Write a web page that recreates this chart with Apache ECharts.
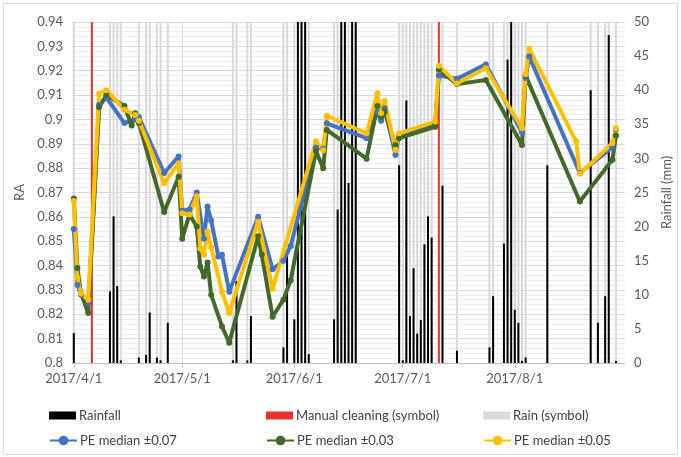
<!DOCTYPE html>
<html><head><meta charset="utf-8">
<script src="https://cdn.jsdelivr.net/npm/echarts@6/dist/echarts.min.js"></script>
<style>html,body{margin:0;padding:0;background:#fff}#c{width:681px;height:457px}</style>
</head><body><div id="c"></div>
<script>
// ---------- data ----------
const tickLabels = ['2017/4/1','2017/5/1','2017/6/1','2017/7/1','2017/8/1'];
const axisStart = '2017-04-01';
const axisEnd = '2017-08-31';

const rainDates = ['2017-04-01','2017-04-11','2017-04-12','2017-04-13','2017-04-14','2017-04-19','2017-04-21','2017-04-22','2017-04-24','2017-04-25','2017-04-27',
  '2017-05-15','2017-05-16','2017-05-19','2017-05-20','2017-05-29','2017-05-30',
  '2017-06-01','2017-06-02','2017-06-03','2017-06-04','2017-06-05','2017-06-12','2017-06-13','2017-06-14','2017-06-15','2017-06-16','2017-06-17','2017-06-18','2017-06-30',
  '2017-07-01','2017-07-02','2017-07-03','2017-07-04','2017-07-05','2017-07-06','2017-07-07','2017-07-08','2017-07-09','2017-07-12','2017-07-16','2017-07-25','2017-07-26','2017-07-29','2017-07-30','2017-07-31',
  '2017-08-01','2017-08-02','2017-08-03','2017-08-04','2017-08-10','2017-08-22','2017-08-24','2017-08-26','2017-08-27','2017-08-29'];
const rainfall = [4.4,10.5,21.5,11.3,0.4,0.8,1.2,7.4,0.8,0.4,5.9,
  0.4,12.0,0.4,6.9,2.3,16.5,
  6.4,50,50,50,1.3,6.4,22.5,50,50,26.4,50,50,29.0,
  0.4,38.5,6.9,13.9,4.3,6.3,17.4,21.5,18.4,26.0,1.8,2.3,9.8,17.5,44.5,50,
  7.8,5.9,0.3,0.8,29.0,40.0,5.9,9.8,48.1,0.3];

const rainSymbolDates = rainDates.slice();
const cleaningDates = ['2017-04-06','2017-07-11'];
const symbolFull = 50;

const peDates = ['2017-04-01','2017-04-02','2017-04-03','2017-04-05','2017-04-08','2017-04-10','2017-04-15','2017-04-17','2017-04-18','2017-04-19',
  '2017-04-26','2017-04-30','2017-05-01','2017-05-03','2017-05-05','2017-05-06','2017-05-07','2017-05-08','2017-05-09','2017-05-11',
  '2017-05-12','2017-05-14','2017-05-22','2017-05-23','2017-05-26','2017-05-29','2017-05-31','2017-06-07','2017-06-09','2017-06-10',
  '2017-06-21','2017-06-24','2017-06-25','2017-06-26','2017-06-29','2017-06-30','2017-07-10','2017-07-11','2017-07-16','2017-07-24',
  '2017-08-03','2017-08-04','2017-08-05','2017-08-18','2017-08-19','2017-08-28','2017-08-29'];
const pe007 = [0.855,0.832,0.828,0.8245,0.906,0.909,0.8985,null,0.900,0.901,
  0.878,0.8848,0.8625,0.863,0.870,null,0.851,0.8643,0.8585,0.8437,
  0.8444,0.8293,0.860,null,0.8385,0.842,0.848,0.8885,0.888,0.8984,
  0.8923,0.903,0.8995,0.9046,0.8854,0.8936,0.8984,0.918,0.9167,0.9226,
  0.8946,0.917,0.9258,null,0.878,0.8885,0.896];
const pe003 = [0.8675,0.839,0.8285,0.8205,0.905,0.910,0.9055,0.8975,0.9025,0.8985,
  0.862,0.8765,0.851,0.861,0.856,0.8395,0.8355,0.8413,0.828,null,
  0.815,0.8083,0.852,0.8445,0.819,0.826,0.834,0.887,0.880,0.8957,
  0.8839,0.9055,0.901,0.903,0.8895,0.8923,0.897,0.9205,0.9145,0.9162,
  0.8895,0.918,null,null,0.8663,0.8834,0.8934];
const pe005 = [0.8665,0.835,0.8285,0.826,0.9105,0.912,0.904,null,0.9018,0.8995,
  0.8738,0.882,0.8615,0.861,0.8685,0.847,0.8444,0.854,0.8475,null,
  0.8293,0.8205,0.858,null,0.8305,null,null,0.891,0.8873,0.9015,
  0.8943,0.9107,0.9025,0.9076,0.8875,0.8943,0.8991,0.922,0.9148,0.921,
  0.8964,0.9185,0.929,0.8909,0.8777,0.8902,0.8964];

// ---------- helpers ----------
function dayOf(s){ const p = s.split(/[-\/]/).map(Number); return (Date.UTC(p[0],p[1]-1,p[2]) - Date.UTC(2017,3,1))/86400000; }
const tickDays = tickLabels.map(dayOf);
const xMin = dayOf(axisStart) - 0.5, xMax = dayOf(axisEnd) + 0.5;
const pairs = (dates, vals) => dates.map((d,i)=>[dayOf(d), vals[i]]);

const FONT = 'Lato';
const labelColor = '#595959';
const grid = {left:72, right:48.5, top:22, bottom:94};

function xAx(show){
  return {type:'value', min:xMin, max:xMax, show:show,
    axisLine:{show:true, lineStyle:{color:'#bfbfbf', width:1}},
    axisTick:{show:true, length:5, customValues:tickDays, lineStyle:{color:'#bfbfbf'}},
    axisLabel:{show:true, customValues:tickDays, fontFamily:FONT, fontSize:13, color:labelColor, margin:9,
      formatter:(v)=>{const i=tickDays.indexOf(v); return i>=0?tickLabels[i]:'';}},
    splitLine:{show:show, lineStyle:{color:'#d9d9d9', width:1}}};
}

const legendBase = {orient:'horizontal', itemGap:0, textStyle:{fontFamily:FONT, fontSize:13, color:'#404040', padding:[0,0,0,-2]}, selectedMode:false};
function leg(name, left, top, icon){
  const o = Object.assign({}, legendBase, {data:[name], left:left, top:top, itemWidth:27});
  if (icon==='rect'){ o.icon='rect'; o.itemHeight=8; } else { o.itemHeight=12; }
  return o;
}

const lineSeries = (name, vals, color) => ({
  name, type:'line', xAxisIndex:0, yAxisIndex:0, data:pairs(peDates, vals), connectNulls:true,
  symbol:'circle', symbolSize:6, showSymbol:true,
  lineStyle:{color, width:4}, itemStyle:{color}, z:5});

const option = {
  animation:false,
  backgroundColor:'#fff',
  grid,
  graphic:[{type:'rect', shape:{x:3.5,y:3.5,width:674,height:451}, style:{fill:'none', stroke:'#d9d9d9', lineWidth:1}, z:-1}],
  xAxis:[xAx(true), xAx(false), xAx(false)],
  yAxis:[
    {type:'value', min:0.8, max:0.94, interval:0.01, name:'RA', nameLocation:'middle', nameGap:46,
      nameTextStyle:{fontFamily:FONT, fontSize:13, color:labelColor},
      axisLine:{show:false}, axisTick:{show:false},
      axisLabel:{fontFamily:FONT, fontSize:13, color:labelColor, margin:9, formatter:v=>String(parseFloat(v.toFixed(2)))},
      splitLine:{lineStyle:{color:'#d9d9d9', width:1}},
      minorTick:{show:false, splitNumber:5},
      minorSplitLine:{show:true, lineStyle:{color:'#eeeeee', width:1}}},
    {type:'value', min:0, max:50, interval:5, name:'Rainfall (mm)', nameLocation:'middle', nameGap:30,
      nameTextStyle:{fontFamily:FONT, fontSize:13, color:labelColor},
      axisLine:{show:false}, axisTick:{show:false},
      axisLabel:{fontFamily:FONT, fontSize:13, color:labelColor, margin:9},
      splitLine:{show:false}}
  ],
  legend:[
    leg('Rainfall', 44, 404, 'rect'),
    leg('Manual cleaning (symbol)', 261, 404, 'rect'),
    leg('Rain (symbol)', 478, 404, 'rect'),
    leg('PE median ±0.07', 44, 429),
    leg('PE median ±0.03', 261, 429),
    leg('PE median ±0.05', 478, 429)
  ],
  series:[
    {name:'Rain (symbol)', type:'bar', xAxisIndex:1, yAxisIndex:1, barWidth:2,
      data:rainSymbolDates.map(d=>[dayOf(d), symbolFull]), itemStyle:{color:'#d9d9d9'}, z:1},
    {name:'Manual cleaning (symbol)', type:'bar', xAxisIndex:2, yAxisIndex:1, barWidth:2,
      data:cleaningDates.map(d=>[dayOf(d), symbolFull]), itemStyle:{color:'#e8322b'}, z:2},
    {name:'Rainfall', type:'bar', xAxisIndex:0, yAxisIndex:1, barWidth:2,
      data:pairs(rainDates, rainfall), itemStyle:{color:'#000000'}, z:3},
    lineSeries('PE median ±0.07', pe007, '#4472C4'),
    lineSeries('PE median ±0.03', pe003, '#41692A'),
    lineSeries('PE median ±0.05', pe005, '#FFC000')
  ]
};
const chart = echarts.init(document.getElementById('c'), null, {renderer:'canvas'});
chart.setOption(option);
</script></body></html>
